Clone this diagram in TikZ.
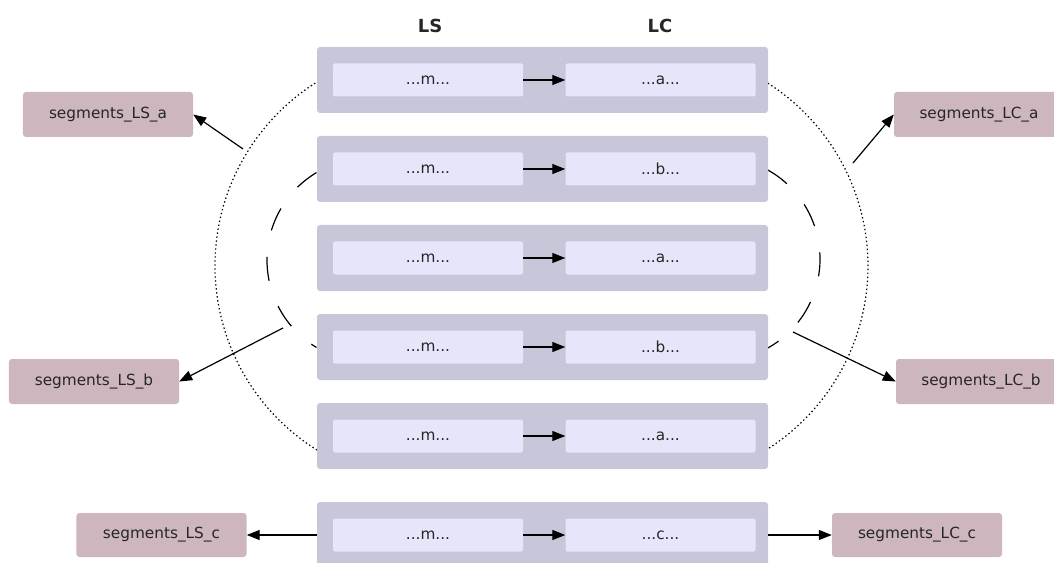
\documentclass[tikz,border=0pt]{standalone}
\usepackage{fontspec}
\setmainfont{DejaVu Sans}
\usetikzlibrary{arrows.meta}
\definecolor{rowgray}{HTML}{C8C6D9}
\definecolor{cellblue}{HTML}{E6E6FA}
\definecolor{segpink}{HTML}{CDB6BD}
\definecolor{txt}{HTML}{262626}
\begin{document}
\begin{tikzpicture}[x=1bp,y=-1bp,
  rowbox/.style={fill=rowgray, draw=none, rounded corners=3bp, minimum width=451bp, minimum height=66bp, inner sep=0pt},
  cell/.style={fill=cellblue, draw=none, rounded corners=2bp, minimum width=190bp, minimum height=33bp, inner sep=0pt, text=txt, font=\fontsize{15.3bp}{18bp}\selectfont},
  seg/.style={fill=segpink, draw=none, rounded corners=3bp, minimum width=170bp, minimum height=45bp, inner sep=0pt, text=txt, font=\fontsize{15.3bp}{18bp}\selectfont},
  title/.style={text=txt, font=\bfseries\fontsize{18bp}{21bp}\selectfont},
  flow/.style={-{Triangle[length=13bp,width=10bp]}, line width=1.2bp, draw=black},
  dotarc/.style={draw=black, line width=1.2bp, dash pattern=on 1.4bp off 2.6bp},
  dasharc/.style={draw=black, line width=1.2bp, dash pattern=on 24bp off 27bp}
]
\useasboundingbox (0,0) rectangle (1054,563);
% arcs behind the rows
\draw[dotarc] (432,266) ++(122:217) arc[start angle=122, end angle=238, radius=217];
\draw[dotarc] (651,266) ++(-57.4:217) arc[start angle=-57.4, end angle=57.4, radius=217];
\draw[dasharc] (369,260) ++(239:102) arc[start angle=239, end angle=121, radius=102];
\draw[dasharc] (718,259) ++(-61:102) arc[start angle=-61, end angle=61, radius=102];

% titles
\node[title] (tLS) at (430,26) {LS};
\node[title] (tLC) at (660,26) {LC};

% rows
\foreach \i/\y/\r in {1/80/a,2/169/b,3/258/a,4/347/b,5/436/a,6/535/c}{
  \node[rowbox] (row\i) at (542.5,\y) {};
  \node[cell] (m\i) at (428,\y) {...m...};
  \node[cell] (r\i) at (660.5,\y) {...\r...};
  \draw[flow] (m\i.east) -- (r\i.west);
}

% side boxes
\node[seg] (LSa) at (108,114.5) {segments\_LS\_a};
\node[seg] (LCa) at (979,114.5) {segments\_LC\_a};
\node[seg] (LSb) at (94,381.5) {segments\_LS\_b};
\node[seg] (LCb) at (981,381.5) {segments\_LC\_b};
\node[seg, minimum height=44bp] (LSc) at (161.5,535) {segments\_LS\_c};
\node[seg, minimum height=44bp] (LCc) at (917,535) {segments\_LC\_c};

% arrow start points on the arcs
\coordinate (pLSa) at (243,149);
\coordinate (pLCa) at (853,163);
\coordinate (pLSb) at (283,328);
\coordinate (pLCb) at (793,332);

\draw[flow] (pLSa) -- (LSa.east);
\draw[flow] (pLCa) -- (LCa.west);
\draw[flow] (pLSb) -- (LSb.east);
\draw[flow] (pLCb) -- (LCb.west);
\draw[flow] (row6.west) -- (LSc.east);
\draw[flow] (row6.east) -- (LCc.west);
\end{tikzpicture}
\end{document}
